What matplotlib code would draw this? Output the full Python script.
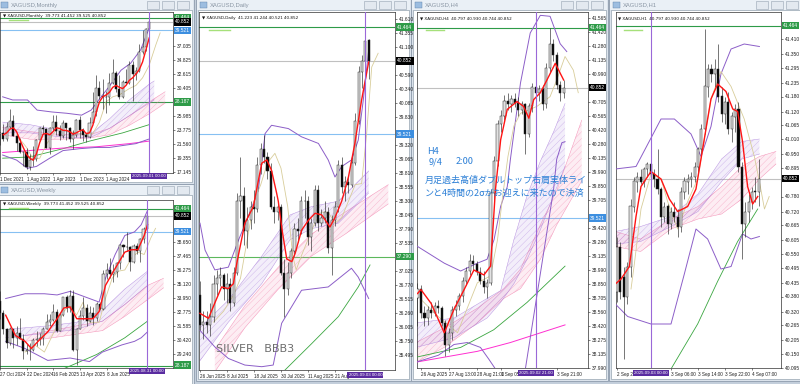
import matplotlib
matplotlib.use("Agg")
import matplotlib.pyplot as plt
from matplotlib.patches import Rectangle
import matplotlib.transforms as mtransforms
from matplotlib.colors import to_rgba

plt.rcParams['font.family'] = ['Liberation Sans', 'DejaVu Sans']
plt.rcParams['hatch.linewidth'] = 0.3

W, H = 800, 384

# ======================= DATA =======================
# ---- Monthly (Nov 2021 .. Sep 2025) ----
m_open = [24.0, 23.1, 23.3, 22.4, 24.3, 25.1, 22.8, 21.7, 20.3, 20.3, 17.9, 19.0, 19.1, 22.1, 24.0, 23.9,
          20.9, 24.1, 25.0, 23.6, 22.8, 24.8, 24.1, 22.3, 22.9, 25.3, 23.8, 23.0, 22.7, 24.9, 26.6, 30.4,
          29.1, 28.9, 28.9, 31.2, 32.7, 30.2, 28.9, 31.3, 31.2, 34.1, 32.6, 33.0, 36.1, 36.8, 39.773]
m_high = [25.4, 23.4, 24.7, 25.0, 27.0, 26.2, 22.9, 22.5, 20.5, 20.9, 19.9, 21.2, 22.3, 24.3, 24.5, 24.0,
          24.2, 26.1, 26.1, 24.5, 25.3, 24.9, 24.3, 23.7, 25.5, 25.9, 24.1, 23.3, 25.8, 29.8, 32.5, 31.5,
          31.8, 29.9, 32.7, 34.9, 33.0, 32.4, 31.6, 33.4, 34.6, 34.6, 33.7, 37.3, 39.5, 39.9, 41.452]
m_low = [22.9, 21.4, 22.0, 22.0, 24.0, 22.8, 20.5, 20.1, 18.1, 17.6, 17.5, 18.1, 18.9, 22.0, 23.1, 20.9,
         19.9, 23.6, 23.0, 22.1, 22.5, 22.2, 21.9, 20.7, 22.6, 22.5, 22.0, 21.9, 22.5, 24.8, 26.0, 28.6,
         27.0, 26.5, 27.7, 31.1, 29.7, 28.7, 28.8, 31.2, 31.1, 28.3, 31.6, 32.9, 35.7, 36.2, 39.525]
m_close = [23.1, 23.3, 22.4, 24.3, 25.1, 22.8, 21.7, 20.3, 20.3, 17.9, 19.0, 19.1, 22.1, 24.0, 23.9, 20.9,
           24.1, 25.0, 23.6, 22.8, 24.8, 24.1, 22.3, 22.9, 25.3, 23.8, 23.0, 22.7, 24.9, 26.6, 30.4, 29.1,
           28.9, 28.9, 31.2, 32.7, 30.2, 28.9, 31.3, 31.2, 34.1, 32.6, 33.0, 36.1, 36.8, 39.773, 40.852]
m_red_x = list(range(2, 47))
m_red_y = [23.0, 23.3, 23.9, 24.1, 23.5, 22.2, 21.0, 19.9, 19.3, 19.0, 20.0, 21.8, 23.1, 23.2, 23.0, 23.5,
           24.1, 24.0, 23.7, 23.7, 23.5, 23.1, 23.3, 23.6, 23.8, 23.2, 23.3, 24.5, 26.5, 28.2, 29.0, 29.3,
           29.7, 30.5, 30.8, 30.5, 30.3, 30.8, 31.6, 32.0, 32.6, 33.3, 34.5, 36.4, 38.3]
m_tan_x = [6, 9, 11, 13, 15, 18, 21, 24, 27, 29, 31, 33, 35, 37, 40, 42, 44, 46, 48, 49.3]
m_tan_y = [23.0, 21.0, 19.2, 19.3, 21.5, 23.8, 23.6, 23.3, 23.0, 23.2, 25.0, 28.2, 29.0, 29.3, 30.3, 30.8,
           32.0, 34.0, 37.2, 39.1]
m_bbu_x = [1.8, 4.8, 9.3, 12.2, 16.7, 21.1, 25.6, 28.5, 31.5, 33.9, 37.5, 40.4, 43.4, 45.8]
m_bbu_y = [29.0, 28.5, 28.5, 26.9, 26.6, 26.4, 26.1, 26.9, 29.0, 30.6, 33.2, 34.3, 36.4, 39.6]
m_bbl_x = [1.8, 6, 9.3, 12, 16, 20, 25, 30, 34, 38, 42, 45.8]
m_bbl_y = [19.8, 19.0, 17.7, 18.0, 19.3, 20.5, 20.8, 21.0, 21.0, 21.3, 21.6, 22.3]
m_pur_x = [1.8, 10, 20, 28, 34, 40, 46, 47.5]
m_pur_lo = [23.3, 23.3, 22.6, 22.5, 24.0, 26.0, 28.0, 28.5]
m_pur_hi = [25.0, 24.6, 23.6, 23.0, 25.5, 28.5, 31.0, 31.5]
m_pnk_x = [1.8, 10, 20, 28, 34, 40, 46, 50.8]
m_pnk_lo = [23.0, 22.3, 22.3, 22.5, 23.0, 24.5, 26.3, 28.0]
m_pnk_hi = [24.2, 23.5, 23.0, 23.0, 24.0, 26.0, 28.2, 29.8]
m_grn_x = [1.8, 10, 20, 28, 38, 46]
m_grn_y = [19.3, 19.5, 20.8, 22.0, 23.3, 24.6]
m_mag_x = [1.8, 20, 30, 40, 46]
m_mag_y = [20.2, 20.9, 21.1, 21.6, 22.0]
m_yticks = [17.145, 19.355, 21.560, 23.775, 25.985, 30.405, 32.615, 34.825, 37.035]
m_xt = [1, 9, 17, 25, 33]
m_xtl = ["1 Dec 2021", "1 Aug 2022", "1 Apr 2023", "1 Dec 2023", "1 Aug 2024"]

# ---- Weekly (21 Oct 2024 .. 31 Aug 2025) ----
w_open = [33.9, 33.7, 32.7, 31.3, 30.2, 31.3, 30.6, 31.0, 30.5, 29.5, 29.6, 29.6, 30.4, 30.5, 30.6, 31.3,
          31.9, 32.1, 32.8, 31.2, 32.5, 34.0, 33.1, 34.1, 29.6, 31.3, 32.4, 33.1, 32.0, 32.7, 32.3, 33.4,
          33.0, 36.0, 36.3, 36.0, 36.1, 36.9, 38.4, 38.2, 38.2, 37.0, 38.3, 37.9, 38.9, 39.773]
w_high = [34.9, 34.5, 32.9, 31.4, 31.5, 31.3, 31.6, 32.3, 30.9, 30.1, 30.2, 30.6, 31.2, 31.0, 31.5, 32.6,
          32.6, 33.4, 33.0, 32.7, 34.0, 34.2, 34.6, 34.6, 31.4, 32.9, 34.0, 33.4, 33.3, 33.2, 33.6, 33.6,
          36.3, 36.9, 37.3, 36.8, 37.0, 38.5, 38.5, 39.5, 38.3, 38.5, 38.6, 39.0, 39.9, 41.452]
w_low = [33.2, 32.2, 30.9, 29.7, 30.0, 29.7, 30.0, 30.5, 28.8, 29.2, 28.7, 29.5, 29.9, 30.0, 30.0, 31.3,
         31.6, 32.0, 31.1, 31.2, 32.4, 32.8, 32.8, 29.5, 28.3, 31.3, 32.1, 31.6, 31.9, 31.7, 32.0, 32.9,
         32.9, 35.5, 35.6, 35.3, 35.7, 36.4, 37.4, 37.9, 36.2, 36.9, 37.6, 37.0, 38.6, 39.525]
w_close = [33.7, 32.7, 31.3, 30.2, 31.3, 30.6, 31.0, 30.5, 29.5, 29.6, 29.6, 30.4, 30.5, 30.6, 31.3, 31.9,
           32.1, 32.8, 31.2, 32.5, 34.0, 33.1, 34.1, 29.6, 31.3, 32.4, 33.1, 32.0, 32.7, 32.3, 33.4, 33.0,
           36.0, 36.3, 36.0, 36.1, 36.9, 38.4, 38.2, 38.2, 37.0, 38.3, 37.9, 38.9, 39.773, 40.852]
w_red_x = [2.7, 5.6, 8.5, 10.4, 12.4, 15.3, 18.1, 20.1, 22.0, 24.0, 25.9, 28.8, 30.7, 32.6, 34.6, 36.5,
           38.4, 40.4, 42.3, 44.2, 45.2]
w_red_y = [32.5, 30.8, 30.3, 29.7, 30.3, 31.1, 32.2, 33.1, 33.2, 32.2, 32.2, 32.2, 32.8, 35.0, 36.0, 36.9,
           37.8, 38.0, 38.0, 39.2, 40.1]
w_tan_x = [8.5, 11.4, 14.3, 17.2, 20.1, 22.0, 23.9, 25.9, 27.8, 30.7, 32.6, 34.6, 36.5, 38.4, 40.4, 42.3,
           44.2, 46.2, 47.6]
w_tan_y = [29.4, 30.0, 29.4, 31.1, 32.8, 33.4, 32.5, 33.6, 31.9, 31.9, 33.9, 35.6, 36.2, 36.3, 37.3, 37.8,
           37.6, 39.0, 39.8]
w_bbu_x = [2.7, 8.5, 14.3, 18.1, 22.0, 27.8, 30.7, 32.6, 35.5, 38.4, 41.3, 43.3, 45.2]
w_bbu_y = [33.9, 34.3, 34.3, 34.2, 34.5, 33.9, 33.6, 35.6, 37.6, 39.2, 39.5, 40.1, 41.3]
w_bbl_x = [2.7, 8.5, 15.3, 22.0, 27.8, 31.7, 34.6, 37.5, 41.3, 43.3, 45.2]
w_bbl_y = [30.3, 29.7, 28.7, 28.9, 28.6, 29.4, 29.7, 30.0, 30.3, 30.6, 31.1]
w_pur_x = [2.7, 15.3, 23.9, 31.7, 38.4, 45.2]
w_pur_lo = [30.6, 31.0, 31.3, 32.0, 33.4, 35.0]
w_pur_hi = [31.3, 31.6, 31.9, 32.9, 34.7, 36.2]
w_pnk_x = [8.5, 14.3, 23.9, 31.7, 38.4, 45.2, 50.0]
w_pnk_lo = [30.3, 30.5, 30.9, 31.2, 32.4, 33.8, 34.8]
w_pnk_hi = [30.8, 31.1, 31.6, 32.0, 33.4, 35.0, 35.6]
w_grn_x = [20.1, 30.0, 38.4, 45.2]
w_grn_y = [28.0, 29.2, 30.6, 32.0]
w_yticks = [29.240, 30.420, 31.585, 32.775, 33.950, 35.120, 36.275, 37.465, 38.650]
w_xt = [1, 9, 17, 25, 33]
w_xtl = ["27 Oct 2024", "22 Dec 2024", "16 Feb 2025", "13 Apr 2025", "8 Jun 2025"]

# ---- Daily (26 Jun 2025 .. 4 Sep 2025) ----
d_open = [36.60, 36.05, 36.10, 36.05, 36.20, 36.80, 36.90, 36.95, 36.70, 36.80,
          36.45, 37.00, 38.30, 38.40, 37.75, 37.95, 38.20, 38.15, 38.95, 39.25,
          39.10, 38.85, 38.20, 38.10, 38.20, 37.00, 36.70, 37.00, 37.40, 37.80,
          37.75, 38.30, 38.30, 37.65, 37.90, 38.50, 37.90, 38.00, 38.10, 37.45,
          37.95, 38.20, 38.95, 38.55, 38.65, 38.60, 39.00, 39.75, 40.65, 40.85, 41.223]
d_high = [36.85, 36.30, 36.30, 36.45, 36.95, 37.05, 37.10, 37.00, 37.00, 36.90,
          37.10, 38.45, 39.10, 38.55, 38.20, 38.30, 38.50, 39.10, 39.35, 39.50,
          39.20, 39.00, 38.40, 38.30, 38.25, 37.25, 37.20, 37.45, 37.90, 38.00,
          38.40, 38.50, 38.40, 38.00, 38.60, 38.60, 38.15, 38.30, 38.20, 38.05,
          38.30, 39.05, 39.10, 38.75, 38.75, 39.10, 39.90, 40.75, 40.95, 41.45, 41.244]
d_low = [35.95, 35.80, 35.90, 35.85, 36.10, 36.60, 36.75, 36.50, 36.45, 36.30,
         36.40, 36.95, 38.00, 37.50, 37.45, 37.80, 37.90, 38.10, 38.80, 39.00,
         38.70, 38.15, 37.90, 37.95, 36.95, 36.20, 36.60, 36.90, 37.30, 37.55,
         37.70, 38.00, 37.50, 37.40, 37.85, 37.75, 37.85, 37.90, 37.35, 36.95,
         37.85, 38.10, 38.45, 38.30, 38.45, 38.55, 38.95, 39.70, 40.35, 40.80, 40.521]
d_close = [36.05, 36.10, 36.05, 36.20, 36.80, 36.90, 36.95, 36.70, 36.80, 36.45,
           37.00, 38.30, 38.40, 37.75, 37.95, 38.20, 38.15, 38.95, 39.25, 39.10,
           38.85, 38.20, 38.10, 38.20, 37.00, 36.70, 37.00, 37.40, 37.80, 37.75,
           38.30, 38.30, 37.65, 37.90, 38.50, 37.90, 38.00, 38.10, 37.45, 37.95,
           38.20, 38.95, 38.55, 38.65, 38.60, 39.00, 39.75, 40.65, 40.85, 41.22, 40.852]
d_red_x = [0, 2.5, 4.4, 6.4, 8.4, 9.9, 10.9, 13.3, 15.8, 18.3, 19.8, 21.2, 22.7, 23.2, 24.4, 25.7, 27.2,
           28.2, 30.1, 32.1, 34.1, 36.1, 38.5, 40.0, 42.0, 44.0, 45.9, 47.9, 50.0]
d_red_y = [36.26, 36.17, 36.45, 36.74, 36.71, 36.80, 37.17, 37.90, 38.20, 38.99, 39.05, 38.86, 38.45,
           38.30, 37.75, 37.25, 37.20, 37.35, 37.77, 37.95, 38.08, 38.05, 37.83, 38.00, 38.30, 38.74,
           39.35, 40.14, 40.83]
d_tan_x = [4, 7, 10, 12, 14, 16, 18, 20, 22.2, 24, 26, 27.5, 28.5, 30, 32, 34, 36, 38, 40, 42, 44, 46,
           47.9, 49.4, 50.9, 52.8]
d_tan_y = [36.1, 36.3, 36.6, 36.9, 37.6, 38.3, 38.6, 39.0, 39.17, 38.9, 38.2, 37.3, 37.05, 37.3, 37.6,
           37.9, 38.1, 38.1, 37.9, 38.0, 38.3, 38.6, 38.62, 39.53, 40.74, 40.99]
d_bbu_x = [0, 1.5, 4.4, 8.4, 11.4, 14.3, 17.3, 19.3, 21.2, 26.2, 30.1, 35.1, 38.0, 40.0, 42.0, 44.9,
           46.9, 48.4, 50.0]
d_bbu_y = [37.9, 37.41, 37.05, 37.1, 37.59, 38.02, 38.5, 39.53, 39.68, 39.62, 39.47, 39.35, 39.05,
           38.74, 38.93, 39.05, 39.41, 40.14, 41.05]
d_bbl_x = [0, 4.4, 8.4, 13.3, 18.3, 21.7, 24.2, 30.1, 38.0, 44.9, 46.9, 50.0]
d_bbl_y = [35.95, 35.65, 35.44, 35.32, 35.29, 35.32, 36.08, 36.68, 36.74, 37.08, 36.92, 36.53]
d_pur_x = [0, 8.4, 18.3, 26.7, 33, 41, 50]
d_pur_lo = [35.4, 36.1, 36.8, 37.6, 37.8, 37.9, 38.45]
d_pur_hi = [36.0, 36.5, 37.3, 38.05, 38.2, 38.3, 38.85]
d_pnk_x = [4.4, 13.3, 23.2, 33, 43, 55.8]
d_pnk_lo = [35.2, 36.0, 36.7, 37.3, 37.7, 38.25]
d_pnk_hi = [35.6, 36.4, 37.1, 37.7, 38.1, 38.6]
d_grn_x = [25.2, 33.1, 41, 46.9, 50.4]
d_grn_y = [35.23, 35.71, 36.2, 36.74, 37.14]
d_yticks = [41.610, 41.355, 41.100, 40.590, 40.340, 40.085, 39.830, 39.320, 39.065, 38.810, 38.555,
            38.300, 38.045, 37.790, 37.535, 37.025, 36.770, 36.515, 36.260, 36.005, 35.750, 35.495]
d_xt = [0, 8, 16, 24, 32, 40]
d_xtl = ["26 Jun 2025", "8 Jul 2025", "18 Jul 2025", "30 Jul 2025", "11 Aug 2025", "21 Aug 2025"]

# ---- H4 ----
h4_x = list(range(-1, 42))
h4_open = [38.70, 38.80, 38.55, 38.50, 38.58, 38.55, 38.62, 38.60, 38.45, 38.22,
           38.35, 38.58, 38.62, 38.72, 38.88, 38.98, 39.08, 39.05, 38.97, 38.88,
           38.82, 38.86, 39.78, 40.10, 40.48, 40.56, 40.72, 40.68, 40.74, 40.70,
           40.62, 40.68, 40.38, 40.66, 40.86, 40.80, 40.84, 40.68, 41.05, 41.30,
           41.18, 40.88, 40.797]
h4_high = [38.86, 38.84, 38.62, 38.62, 38.66, 38.66, 38.68, 38.62, 38.48, 38.40,
           38.62, 38.68, 38.76, 38.92, 39.02, 39.15, 39.14, 39.08, 39.02, 38.98,
           38.90, 39.82, 40.15, 40.52, 40.62, 40.78, 40.80, 40.78, 40.80, 40.76,
           40.72, 40.70, 40.70, 40.90, 40.95, 40.88, 40.88, 41.10, 41.46, 41.35,
           41.22, 40.92, 40.930]
h4_low = [38.42, 38.50, 38.42, 38.43, 38.50, 38.52, 38.55, 38.42, 38.11, 38.15,
          38.28, 38.52, 38.58, 38.66, 38.84, 38.94, 38.98, 38.94, 38.85, 38.76,
          38.70, 38.84, 39.70, 40.05, 40.40, 40.52, 40.62, 40.60, 40.65, 40.56,
          40.58, 40.17, 40.35, 40.60, 40.74, 40.72, 40.62, 40.64, 41.00, 41.12,
          40.84, 40.72, 40.744]
h4_close = [38.80, 38.55, 38.50, 38.58, 38.55, 38.62, 38.60, 38.45, 38.22, 38.35,
            38.58, 38.62, 38.72, 38.88, 38.98, 39.08, 39.05, 38.97, 38.88, 38.82,
            38.86, 39.78, 40.10, 40.48, 40.56, 40.72, 40.68, 40.74, 40.70, 40.62,
            40.68, 40.38, 40.66, 40.86, 40.80, 40.84, 40.68, 41.05, 41.30, 41.18,
            40.88, 40.80, 40.852]
h4_red_x = [-1, 0, 2.9, 6.7, 9.5, 12.4, 15.2, 18.1, 20, 21.4, 22.9, 24.8, 27.6, 29.5, 31, 32.4, 34.3,
            36.2, 38.6, 40, 41]
h4_red_y = [38.75, 38.79, 38.65, 38.35, 38.59, 38.79, 38.99, 38.94, 39.03, 39.81, 40.32, 40.63, 40.71,
            40.66, 40.54, 40.73, 40.80, 40.93, 41.10, 41.00, 40.93]
h4_tan_x = [0, 4.8, 10.5, 12.4, 16.2, 20, 22, 23.5, 25, 26.7, 28.6, 33.3, 37.1, 39.0, 41.4, 43.8, 45.2]
h4_tan_y = [38.69, 38.52, 38.35, 38.52, 38.86, 38.93, 39.3, 39.75, 40.15, 40.46, 40.59, 40.66, 40.76,
            40.93, 41.17, 41.03, 40.80]
h4_bbu_x = [-1.4, 6.7, 11.4, 16.2, 19, 21, 22.9, 24.8, 25.7, 28.6, 31.4, 34.3, 37.1, 40, 41.9]
h4_bbu_y = [39.24, 39.06, 38.98, 39.06, 39.10, 39.30, 39.64, 39.84, 40.12, 40.90, 41.41, 41.59, 41.58,
            41.30, 41.22]
h4_bbl_x = [-1.4, 5, 9.5, 13.3, 17.1, 19.5, 21.4, 25, 28, 30, 38.1, 39, 40.5, 41.4]
h4_bbl_y = [38.05, 38.12, 38.23, 38.25, 38.20, 38.08, 37.98, 37.5, 37.6, 37.98, 39.81, 40.12, 40.29, 40.30]
h4_pur_x = [-1.4, 9.5, 19, 22.9, 26.7, 30.5, 34.3, 38.1, 41.4]
h4_pur_lo = [38.2, 38.3, 38.5, 38.66, 38.85, 39.1, 39.4, 39.75, 40.05]
h4_pur_hi = [38.45, 38.5, 38.7, 38.78, 39.3, 39.75, 40.1, 40.4, 40.69]
h4_pnk_x = [-1.4, 6.7, 16.2, 23.8, 28.6, 34.3, 39, 46.2]
h4_pnk_lo = [38.05, 38.2, 38.45, 38.7, 38.8, 39.1, 39.45, 39.9]
h4_pnk_hi = [38.25, 38.4, 38.6, 38.8, 39.0, 39.45, 39.8, 40.52]
h4_grn_x = [-1.4, 11.4, 20.9, 30.5, 41.4]
h4_grn_y = [38.10, 38.20, 38.38, 38.66, 39.03]
h4_mag_x = [-1.4, 16.2, 25.7, 41.4]
h4_mag_y = [38.05, 38.16, 38.25, 38.43]
h4_yticks = [41.565, 41.420, 41.280, 41.135, 40.990, 40.705, 40.565, 40.420, 40.280, 40.135, 39.990,
             39.850, 39.705, 39.420, 39.280, 39.135, 38.990, 38.850, 38.705, 38.560, 38.420, 38.275,
             38.135, 37.990]
h4_xt = [0, 8, 16, 23, 39]
h4_xtl = ["26 Aug 2025", "27 Aug 13:00", "28 Aug 21:00", "1 Sep 05:00", "3 Sep 21:00"]

# ---- H1 ----
h1_x = list(range(0, 43))
h1_open = [40.40, 40.58, 40.46, 40.38, 40.50, 40.74, 40.84, 40.86, 40.84, 40.89,
           40.91, 40.87, 40.85, 40.81, 40.70, 40.74, 40.67, 40.72, 40.70, 40.66,
           40.80, 40.84, 40.85, 40.86, 40.90, 40.97, 41.05, 41.22, 41.29, 41.27,
           41.29, 41.18, 41.11, 41.16, 41.05, 41.10, 41.13, 40.90, 40.67, 40.72,
           40.76, 40.80, 40.797]
h1_high = [40.62, 40.60, 40.50, 40.52, 40.77, 40.86, 40.88, 40.89, 40.90, 40.92,
           40.92, 40.89, 40.97, 40.82, 40.76, 40.75, 40.74, 40.76, 40.73, 40.82,
           40.86, 40.87, 40.88, 40.92, 40.98, 41.07, 41.45, 41.31, 41.31, 41.33,
           41.39, 41.22, 41.18, 41.20, 41.12, 41.15, 41.16, 40.92, 40.76, 40.79,
           40.82, 40.86, 40.930]
h1_low = [40.36, 40.37, 40.13, 40.35, 40.46, 40.72, 40.80, 40.83, 40.82, 40.86,
          40.86, 40.82, 40.79, 40.66, 40.68, 40.63, 40.65, 40.68, 40.62, 40.64,
          40.77, 40.79, 40.82, 40.84, 40.88, 40.95, 41.03, 41.18, 41.24, 41.22,
          41.16, 41.08, 41.07, 41.03, 41.00, 41.04, 40.88, 40.53, 40.62, 40.68,
          40.73, 40.76, 40.744]
h1_close = [40.58, 40.40, 40.38, 40.50, 40.74, 40.84, 40.86, 40.84, 40.89, 40.91,
            40.87, 40.85, 40.81, 40.70, 40.74, 40.67, 40.72, 40.70, 40.66, 40.80,
            40.84, 40.85, 40.86, 40.90, 40.97, 41.05, 41.22, 41.29, 41.27, 41.29,
            41.18, 41.11, 41.16, 41.05, 41.10, 41.13, 40.90, 40.67, 40.72, 40.76,
            40.80, 40.797, 40.852]
h1_red_x = [-0.5, 1.2, 3.65, 5.63, 7.11, 10.07, 13.04, 15.5, 17.98, 20.94, 23.4, 25.38, 27.85, 29.83,
            32.3, 34.3, 35.75, 37.2, 38.7, 40.2, 41.7]
h1_red_y = [40.43, 40.45, 40.50, 40.70, 40.82, 40.88, 40.85, 40.77, 40.72, 40.74, 40.81, 40.97, 41.17,
            41.23, 41.20, 41.13, 41.12, 41.00, 40.82, 40.75, 40.78]
h1_tan_x = [4.15, 5.14, 7.11, 10.07, 13.04, 15.0, 17.98, 20.94, 23.9, 27.85, 30.8, 33.8, 37.7, 40.7,
            42.2, 43.7, 45.1]
h1_tan_y = [40.41, 40.51, 40.73, 40.87, 40.85, 40.76, 40.65, 40.76, 40.85, 41.17, 41.28, 41.22, 41.09,
            40.94, 40.84, 40.73, 40.78]
h1_bbu_x = [-0.5, 5.63, 13.04, 17.0, 21.93, 24.9, 27.85, 30.8, 33.8, 37.7, 42.2]
h1_bbu_y = [40.89, 40.90, 41.09, 41.09, 41.03, 40.94, 41.06, 41.27, 41.37, 41.39, 41.38]
h1_bbl_x = [-0.5, 3.16, 10.07, 16.0, 19.95, 23.4, 26.86, 30.8, 33.8, 37.2, 39.7, 42.2]
h1_bbl_y = [40.35, 40.30, 40.27, 40.27, 40.47, 40.65, 40.61, 40.49, 40.50, 40.63, 40.61, 40.62]
h1_pur_x = [-0.5, 7, 16, 24, 31, 37, 42.2]
h1_pur_lo = [40.59, 40.60, 40.66, 40.72, 40.84, 40.93, 40.95]
h1_pur_hi = [40.64, 40.66, 40.70, 40.79, 40.93, 41.00, 41.01]
h1_pnk_x = [-0.5, 7, 16, 24, 31, 37, 42.2, 47.1]
h1_pnk_lo = [40.58, 40.56, 40.65, 40.69, 40.71, 40.77, 40.85, 40.91]
h1_pnk_hi = [40.64, 40.61, 40.69, 40.74, 40.82, 40.90, 40.94, 40.96]
h1_grn_x = [14.5, 16, 23.9, 29.8, 35.75, 41.7]
h1_grn_y = [40.05, 40.09, 40.27, 40.44, 40.60, 40.73]
h1_yticks = [41.410, 41.350, 41.295, 41.235, 41.180, 41.120, 41.065, 41.010, 40.950, 40.895, 40.780,
             40.720, 40.665, 40.605, 40.550, 40.495, 40.435, 40.380, 40.320, 40.265, 40.205, 40.150,
             40.095]
h1_xt = [0, 16, 24, 32, 40]
h1_xtl = ["2 Sep 2025", "3 Sep 06:00", "3 Sep 14:00", "3 Sep 22:00", "4 Sep 07:00"]

# horizontal levels
lvl_green_top = 41.464
lvl_blue = 39.521
lvl_price = 40.852
lvl_green_low = 28.187
lvl_green_daily = 37.29

# ======================= DRAWING =======================
fig = plt.figure(figsize=(8, 3.84), dpi=100)
fig.patch.set_facecolor('#c3cedb')


def frect(x0, y0, x1, y1, **kw):
    fig.patches.append(Rectangle((x0 / W, 1 - y1 / H), (x1 - x0) / W, (y1 - y0) / H,
                                 transform=fig.transFigure, zorder=-5, **kw))


def window(x0, y0, x1, y1, title, tb=11):
    frect(x0, y0, x1, y1, facecolor='#dbe3ec', edgecolor='#8e9cad', lw=0.6)
    frect(x0 + 1, y0 + 1, x1 - 1, y0 + tb, facecolor='#eaf0f6', edgecolor='none')
    frect(x0 + 2, y0 + tb, x1 - 2, y1 - 2, facecolor='white', edgecolor='#8090a0', lw=0.4)
    frect(x0 + 4, y0 + 3, x0 + 11, y0 + 9, facecolor='#9cbde0', edgecolor='#5b7fa8', lw=0.3)
    fig.text((x0 + 14) / W, 1 - (y0 + tb / 2 + 0.5) / H, title, fontsize=4.2,
             color='#8995a3', va='center', ha='left')
    for k in range(3):
        bx = x1 - 47 + k * 15
        frect(bx, y0 + 2, bx + 12, y0 + 9.5, facecolor='#e3e9f0', edgecolor='#96a3b2', lw=0.4)


def make_ax(x0, y0, x1, y1):
    ax = fig.add_axes([x0 / W, 1 - y1 / H, (x1 - x0) / W, (y1 - y0) / H])
    ax.set_facecolor('white')
    for s in ax.spines.values():
        s.set_linewidth(0.5)
        s.set_color('#303030')
    ax.yaxis.tick_right()
    ax.tick_params(axis='both', labelsize=3.5, length=1.6, width=0.4, pad=1.2, colors='#202020')
    return ax


def candles(ax, xs, o, h, l, c, w=0.62):
    for x, oo, hh, ll, cc in zip(xs, o, h, l, c):
        ax.vlines(x, ll, hh, color='#2a2a2a', lw=0.45, zorder=4)
        fc = '#e2e2e2' if cc >= oo else '#050505'
        ax.add_patch(Rectangle((x - w / 2, min(oo, cc)), w, abs(cc - oo), facecolor=fc,
                               edgecolor='#2a2a2a', lw=0.35, zorder=5))


def ribbon(ax, x, lo, hi, col):
    ax.fill_between(x, lo, hi, facecolor=to_rgba(col, 0.13), lw=0, zorder=2)
    ax.fill_between(x, lo, hi, facecolor='none', edgecolor=to_rgba(col, 0.55), hatch='/////',
                    lw=0, zorder=2)
    ax.plot(x, lo, color=col, lw=0.35, alpha=0.8, zorder=2)
    ax.plot(x, hi, color=col, lw=0.35, alpha=0.8, zorder=2)


def pbox(ax, y, txt, fc):
    tr = mtransforms.blended_transform_factory(ax.transAxes, ax.transData)
    ax.text(1.012, y, txt, transform=tr, fontsize=3.5, color='white', va='center', ha='left',
            bbox=dict(boxstyle='square,pad=0.25', fc=fc, ec='none'), clip_on=False, zorder=10)


def finish(ax, xlim, ylim, yt, xt, xtl, hdr, vx, vtxt):
    ax.set_xlim(*xlim)
    ax.set_ylim(*ylim)
    ax.set_yticks(yt)
    ax.set_yticklabels([f"{v:.3f}" for v in yt])
    ax.set_xticks(xt)
    ax.set_xticklabels(xtl, ha='left', fontsize=3.3)
    ax.axvline(vx, color='#9a68d8', lw=0.8, zorder=7)
    tr = mtransforms.blended_transform_factory(ax.transData, ax.transAxes)
    ax.text(vx, -0.008, vtxt, transform=tr, fontsize=3.2, color='white', va='top', ha='center',
            bbox=dict(boxstyle='square,pad=0.25', fc='#5a2ca0', ec='none'), clip_on=False, zorder=12)
    ax.text(0.015, 0.988, "\u25bc " + hdr, transform=ax.transAxes, fontsize=3.0, va='top',
            ha='left', color='#111111', zorder=11, family=['DejaVu Sans'])
    ax.plot([0.05, 0.16], [0.95, 0.95], transform=ax.transAxes, color='#a6e07a', lw=1.0, zorder=11)


def indicators(ax, red, tan, bbu, bbl, pur, pnk, grn, mag=None):
    ribbon(ax, *pnk, '#f27aa8')
    ribbon(ax, *pur, '#a97ddb')
    ax.plot(*grn, color='#3aa640', lw=0.6, zorder=3)
    if mag is not None:
        ax.plot(*mag, color='#ff2ed0', lw=0.7, zorder=3)
    ax.plot(*bbu, color='#8c5ec8', lw=0.7, zorder=3)
    ax.plot(*bbl, color='#8c5ec8', lw=0.7, zorder=3)
    ax.plot(*tan, color='#d8cd9a', lw=0.6, zorder=3)
    ax.plot(*red, color='#ff1414', lw=1.0, zorder=6)


# ---------- windows ----------
window(-3, -1, 194, 184, "XAGUSD,Monthly")
window(-3, 184, 194, 386, "XAGUSD,Weekly")
window(196, -1, 411, 381, "XAGUSD,Daily")
window(411, -1, 608, 381, "XAGUSD,H4")
window(609, -1, 803, 381, "XAGUSD,H1")

# ---------- Monthly ----------
axm = make_ax(0, 12, 173, 173)
candles(axm, range(len(m_open)), m_open, m_high, m_low, m_close)
indicators(axm, (m_red_x, m_red_y), (m_tan_x, m_tan_y), (m_bbu_x, m_bbu_y), (m_bbl_x, m_bbl_y),
           (m_pur_x, m_pur_lo, m_pur_hi), (m_pnk_x, m_pnk_lo, m_pnk_hi), (m_grn_x, m_grn_y),
           (m_mag_x, m_mag_y))
for y, col in [(lvl_green_top, '#2e9b48'), (lvl_green_low, '#2e9b48'), (lvl_blue, '#86c0f2'),
               (lvl_price, '#c0c0c0')]:
    axm.axhline(y, color=col, lw=0.8, zorder=1.5)
finish(axm, (1.84, 53.18), (16.96, 42.40), m_yticks, m_xt, m_xtl,
       "XAGUSD,Monthly  39.773 41.452 39.525 40.852", 46, "2025.09.01 00:00")
pbox(axm, lvl_green_top, "41.464", '#2e9b48')
pbox(axm, lvl_price, "40.852", '#000000')
pbox(axm, lvl_blue, "39.521", '#3d8fe0')
pbox(axm, lvl_green_low, "28.187", '#2e9b48')

# ---------- Weekly ----------
axw = make_ax(0, 200, 173, 368)
candles(axw, range(len(w_open)), w_open, w_high, w_low, w_close)
indicators(axw, (w_red_x, w_red_y), (w_tan_x, w_tan_y), (w_bbu_x, w_bbu_y), (w_bbl_x, w_bbl_y),
           (w_pur_x, w_pur_lo, w_pur_hi), (w_pnk_x, w_pnk_lo, w_pnk_hi), (w_grn_x, w_grn_y))
for y, col in [(lvl_green_top, '#2e9b48'), (lvl_green_low, '#2e9b48'), (lvl_blue, '#86c0f2'),
               (lvl_price, '#c0c0c0')]:
    axw.axhline(y, color=col, lw=0.8, zorder=1.5)
finish(axw, (2.68, 52.83), (28.06, 42.18), w_yticks, w_xt, w_xtl,
       "XAGUSD,Weekly  39.773 41.452 39.525 40.852", 45, "2025.08.31 00:00")
pbox(axw, lvl_green_top, "41.464", '#2e9b48')
pbox(axw, lvl_price, "40.852", '#000000')
pbox(axw, lvl_blue, "39.521", '#3d8fe0')
pbox(axw, lvl_green_low + 0.12, "28.187", '#2e9b48')

# ---------- Daily ----------
axd = make_ax(199, 12, 395, 370)
candles(axd, range(len(d_open)), d_open, d_high, d_low, d_close)
indicators(axd, (d_red_x, d_red_y), (d_tan_x, d_tan_y), (d_bbu_x, d_bbu_y), (d_bbl_x, d_bbl_y),
           (d_pur_x, d_pur_lo, d_pur_hi), (d_pnk_x, d_pnk_lo, d_pnk_hi), (d_grn_x, d_grn_y))
for y, col in [(lvl_green_top, '#2e9b48'), (lvl_green_daily, '#5cb85c'), (lvl_blue, '#86c0f2'),
               (lvl_price, '#c0c0c0')]:
    axd.axhline(y, color=col, lw=0.8, zorder=1.5)
finish(axd, (-0.3, 57.8), (35.23, 41.74), d_yticks, d_xt, d_xtl,
       "XAGUSD,Daily  41.223 41.244 40.521 40.852", 49, "2025.09.03 00:00")
pbox(axd, lvl_green_top, "41.464", '#2e9b48')
pbox(axd, lvl_price, "40.852", '#000000')
pbox(axd, lvl_blue, "39.521", '#3d8fe0')
pbox(axd, lvl_green_daily, "37.290", '#2e9b48')
axd.text(0.085, 0.06, "SILVER   BBB3", transform=axd.transAxes, fontsize=8, color='#6d6d6d',
         ha='left', va='center', zorder=11, family=['DejaVu Sans'])

# ---------- H4 ----------
ax4 = make_ax(417, 12, 588, 368)
candles(ax4, h4_x, h4_open, h4_high, h4_low, h4_close)
indicators(ax4, (h4_red_x, h4_red_y), (h4_tan_x, h4_tan_y), (h4_bbu_x, h4_bbu_y),
           (h4_bbl_x, h4_bbl_y), (h4_pur_x, h4_pur_lo, h4_pur_hi), (h4_pnk_x, h4_pnk_lo, h4_pnk_hi),
           (h4_grn_x, h4_grn_y), (h4_mag_x, h4_mag_y))
for y, col in [(lvl_green_top, '#2e9b48'), (lvl_blue, '#86c0f2'), (lvl_price, '#c0c0c0')]:
    ax4.axhline(y, color=col, lw=0.8, zorder=1.5)
finish(ax4, (-1.14, 48.0), (38.0, 41.624), h4_yticks, h4_xt, h4_xtl,
       "XAGUSD,H4  40.797 40.930 40.744 40.852", 33, "2025.09.02 21:00")
pbox(ax4, lvl_green_top, "41.464", '#2e9b48')
pbox(ax4, lvl_price, "40.852", '#000000')
pbox(ax4, lvl_blue, "39.521", '#3d8fe0')
jp = ['Noto Sans CJK JP', 'DejaVu Sans']
blue_txt = '#2b7fd6'
fig.text(427 / W, 1 - 151 / H, "H4", fontsize=6.6, color=blue_txt, va='center', family=jp)
fig.text(429 / W, 1 - 162 / H, "9/4", fontsize=6.6, color=blue_txt, va='center', family=jp)
fig.text(456 / W, 1 - 162 / H, "2:00", fontsize=6.6, color=blue_txt, va='center', family=jp)
fig.text(425 / W, 1 - 180 / H, "月足過去高値ダブルトップ右肩実体ライ", fontsize=6.5,
         color=blue_txt, va='center', family=jp)
fig.text(425 / W, 1 - 193 / H, "ンと4時間の2σがお迎えに来たので決済", fontsize=6.5,
         color=blue_txt, va='center', family=jp)

# ---------- H1 ----------
ax1 = make_ax(616, 12, 781, 368)
candles(ax1, h1_x, h1_open, h1_high, h1_low, h1_close)
indicators(ax1, (h1_red_x, h1_red_y), (h1_tan_x, h1_tan_y), (h1_bbu_x, h1_bbu_y),
           (h1_bbl_x, h1_bbl_y), (h1_pur_x, h1_pur_lo, h1_pur_hi), (h1_pnk_x, h1_pnk_lo, h1_pnk_hi),
           (h1_grn_x, h1_grn_y))
for y, col in [(lvl_green_top, '#2e9b48'), (lvl_price, '#c0c0c0')]:
    ax1.axhline(y, color=col, lw=0.8, zorder=1.5)
finish(ax1, (-0.3, 48.6), (40.094, 41.518), h1_yticks, h1_xt, h1_xtl,
       "XAGUSD,H1  40.797 40.930 40.744 40.852", 10, "2025.09.03 00:00")
pbox(ax1, lvl_green_top, "41.464", '#2e9b48')
pbox(ax1, lvl_price, "40.852", '#000000')

fig.savefig("out.png", dpi=100, facecolor=fig.get_facecolor())
